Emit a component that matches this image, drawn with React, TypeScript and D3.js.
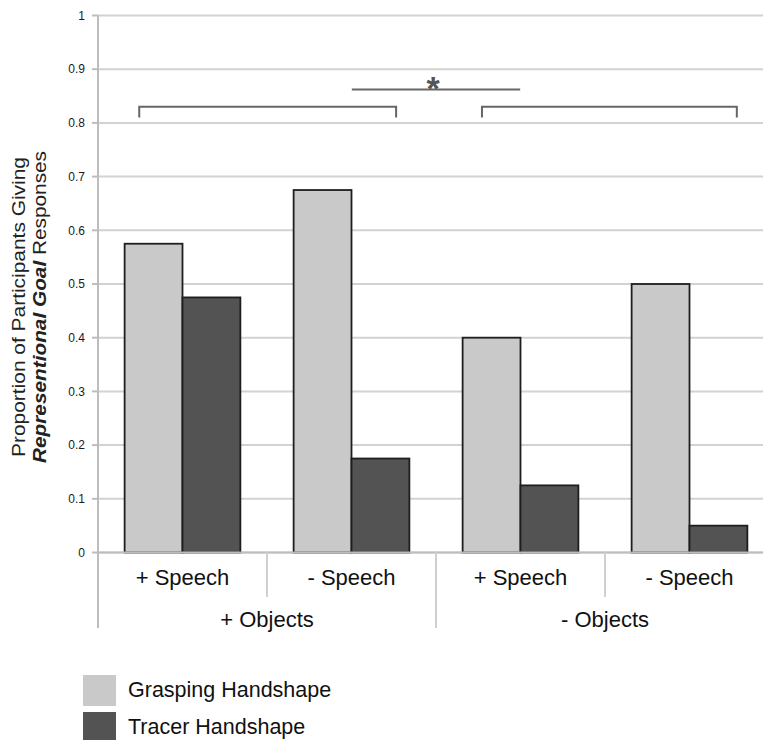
import React from "react";
import * as d3 from "d3";

// Conditions on the x axis (inner) and their grouping (outer)
const speechLabels = ["+ Speech", "- Speech", "+ Speech", "- Speech"];
const objectGroups = ["+ Objects", "- Objects"];
const seriesNames = ["Grasping Handshape", "Tracer Handshape"];
const graspingValues = [0.575, 0.675, 0.4, 0.5];
const tracerValues = [0.475, 0.175, 0.125, 0.05];
const yTicks = [0, 0.1, 0.2, 0.3, 0.4, 0.5, 0.6, 0.7, 0.8, 0.9, 1];
const yTickLabels = ["0", "0.1", "0.2", "0.3", "0.4", "0.5", "0.6", "0.7", "0.8", "0.9", "1"];

const W = 763;
const H = 740;
const left = 98;
const right = 774;
const top = 15.5;
const bottom = 552.5;

const FONT = "'Liberation Sans', Arial, Helvetica, sans-serif";
const colors = ["#c9c9c9", "#535353"];

export default function App() {
  const y = d3.scaleLinear().domain([0, 1]).range([bottom, top]);
  const idx = speechLabels.map((_, i) => String(i));
  const x = d3.scaleBand().domain(idx).range([left, right]).paddingInner(0).paddingOuter(0);
  const inner = d3.scaleBand().domain(["0", "1"]).range([0, x.bandwidth()]).paddingInner(0).paddingOuter(0.46);
  const groupX = d3.scaleBand().domain(objectGroups).range([left, right]);

  const series = [graspingValues, tracerValues];

  // Bracket levels (data units)
  const bracketY = 0.83;
  const bracketTick = 0.81;
  const sigY = 0.862;
  const gw = groupX.bandwidth();
  const brackets = [
    [groupX(objectGroups[0])! + gw * 0.122, groupX(objectGroups[0])! + gw * 0.882],
    [groupX(objectGroups[1])! + gw * 0.136, groupX(objectGroups[1])! + gw * 0.89],
  ];
  const divider = groupX(objectGroups[1])!;
  const sigHalf = gw * 0.249;

  return (
    <svg width={W} height={H} style={{ position: "absolute", left: 0, top: 0, background: "#fff" }} fontFamily={FONT}>
      {/* gridlines */}
      {yTicks.map((t) => (
        <line key={"g" + t} x1={left} x2={W} y1={y(t)} y2={y(t)} stroke="#d2d2d2" strokeWidth={2} />
      ))}
      {/* y axis */}
      <line x1={left} x2={left} y1={top} y2={628} stroke="#bdbdbd" strokeWidth={2} />
      {yTicks.map((t, i) => (
        <g key={"t" + t}>
          <line x1={left - 6} x2={left} y1={y(t)} y2={y(t)} stroke="#bdbdbd" strokeWidth={2} />
          <text x={85} y={y(t)} dy="0.35em" textAnchor="end" fontSize={12} fill="#1a1a1a">
            {yTickLabels[i]}
          </text>
        </g>
      ))}
      {/* bars */}
      {series.map((vals, s) =>
        vals.map((v, i) => (
          <rect
            key={`b${s}-${i}`}
            x={x(String(i))! + inner(String(s))!}
            y={y(v)}
            width={inner.bandwidth()}
            height={y(0) - y(v)}
            fill={colors[s]}
            stroke="#1e1e1e"
            strokeWidth={1.8}
          />
        ))
      )}
      {/* x axis baseline */}
      <line x1={left} x2={W} y1={bottom} y2={bottom} stroke="#bdbdbd" strokeWidth={2} />
      {/* category dividers */}
      {idx.slice(1).map((k, i) => {
        const isGroup = (i + 1) % 2 === 0;
        return (
          <line
            key={"d" + k}
            x1={x(k)}
            x2={x(k)}
            y1={bottom}
            y2={isGroup ? 628 : 597}
            stroke="#d0d0d0"
            strokeWidth={2}
          />
        );
      })}
      {speechLabels.map((l, i) => (
        <text key={"s" + i} x={x(String(i))! + x.bandwidth() / 2} y={585} textAnchor="middle" fontSize={22} fill="#111">
          {l}
        </text>
      ))}
      {objectGroups.map((g) => (
        <text key={g} x={groupX(g)! + gw / 2} y={627} textAnchor="middle" fontSize={22} fill="#111">
          {g}
        </text>
      ))}
      {/* comparison brackets */}
      {brackets.map(([a, b], i) => (
        <path
          key={"br" + i}
          d={`M${a},${y(bracketTick)}V${y(bracketY)}H${b}V${y(bracketTick)}`}
          fill="none"
          stroke="#666"
          strokeWidth={2}
        />
      ))}
      <line x1={divider - sigHalf} x2={divider + sigHalf} y1={y(sigY)} y2={y(sigY)} stroke="#666" strokeWidth={2} />
      <text x={divider - 3} y={y(sigY) + 10} textAnchor="middle" fontSize={34} fontWeight="bold" fill="#555">
        *
      </text>
      {/* y axis title */}
      <g transform={`translate(25, 307) rotate(-90)`}>
        <text textAnchor="middle" fontSize={17.5} fill="#222" textLength={300} lengthAdjust="spacingAndGlyphs">
          Proportion of Participants Giving
        </text>
        <text y={21} textAnchor="middle" fontSize={17.5} fill="#222" textLength={312} lengthAdjust="spacingAndGlyphs">
          <tspan fontWeight="bold" fontStyle="italic">Representional Goal</tspan>
          <tspan> Responses</tspan>
        </text>
      </g>
      {/* legend */}
      {seriesNames.map((n, i) => (
        <g key={n} transform={`translate(83, ${675 + i * 37})`}>
          <rect width={33} height={31} fill={colors[i]} />
          <text x={45} y={22} fontSize={21.5} fill="#111">
            {n}
          </text>
        </g>
      ))}
    </svg>
  );
}
